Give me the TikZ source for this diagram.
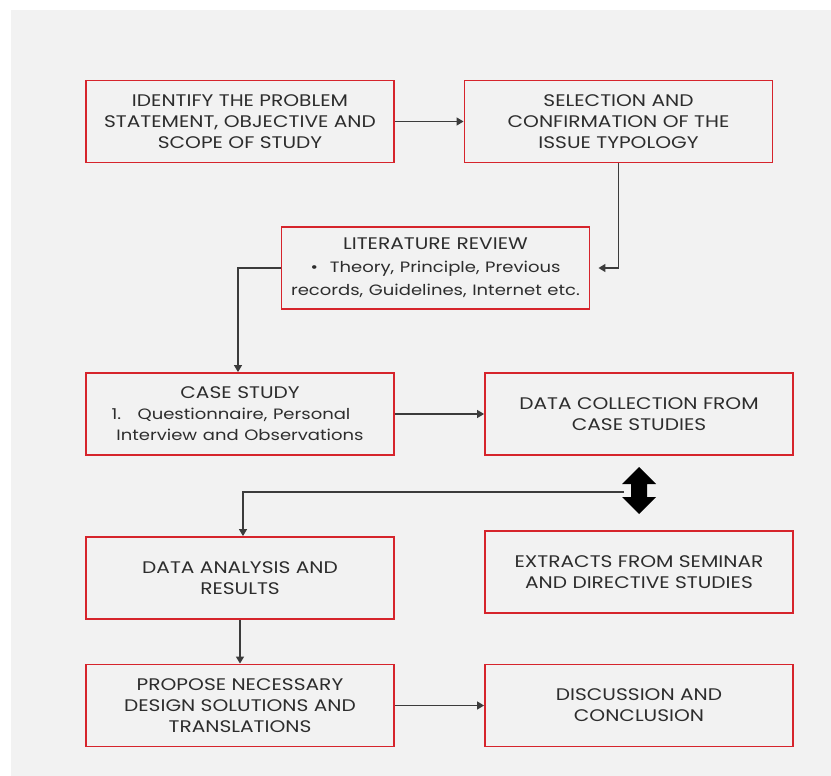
\documentclass[tikz,border=0pt]{standalone}
\usepackage{fontspec}
\setmainfont[FakeStretch=1.2]{Poppins}
\usetikzlibrary{arrows.meta}
\definecolor{boxred}{RGB}{214,36,44}
\definecolor{pagegray}{RGB}{242,242,242}
\definecolor{inkgray}{RGB}{45,45,45}
\definecolor{linegray}{RGB}{60,60,60}
% mixed-case lines are set a little narrower
\newcommand{\smalltxt}{\fontsize{15}{21}\selectfont}
\begin{document}
\begin{tikzpicture}[x=1pt,y=-1pt,
  box/.style={draw=boxred, line width=1.9pt, fill=pagegray, minimum width=308pt,
    minimum height=82pt, align=center, text=inkgray, inner sep=0pt,
    font=\fontsize{16.8}{21}\selectfont},
  conn/.style={draw=linegray, line width=1.4pt, -{Triangle[length=7pt,width=8pt]}}
]
% page and gray panel
\useasboundingbox (0,0) rectangle (831,776);
\fill[white] (0,0) rectangle (831,776);
\fill[pagegray] (11,10) rectangle (831,776);

% process boxes
\node[box] (b1) at (240,121.5) {IDENTIFY THE PROBLEM\\STATEMENT, OBJECTIVE AND\\SCOPE OF STUDY};
\node[box] (b2) at (618.5,121.5) {SELECTION AND\\CONFIRMATION OF THE\\ISSUE TYPOLOGY};
\node[box, text width=300pt] (b3) at (435.5,268) {LITERATURE REVIEW\\[2pt]
  {\smalltxt\textbullet\hspace{0.8em}Theory, Principle, Previous}\\[2pt]
  {\smalltxt records, Guidelines, Internet etc.}};
\node[box, text width=300pt] (b4) at (240,414) {CASE STUDY\\
  {\smalltxt\hspace{-1.2em}1.\hspace{1.1em}Questionnaire, Personal}\\
  {\smalltxt Interview and Observations}};
\node[box] (b5) at (639,414) {DATA COLLECTION FROM\\CASE STUDIES};
\node[box] (b6) at (240,578) {DATA ANALYSIS AND\\RESULTS};
\node[box] (b7) at (639,572) {EXTRACTS FROM SEMINAR\\AND DIRECTIVE STUDIES};
\node[box] (b8) at (240,705.5) {PROPOSE NECESSARY\\DESIGN SOLUTIONS AND\\TRANSLATIONS};
\node[box] (b9) at (639,705.5) {DISCUSSION AND\\CONCLUSION};

% two-headed block arrow between the data boxes
\fill[black] (639,467) -- (656,484) -- (647,484) -- (647,497) -- (656,497)
  -- (639,514) -- (622,497) -- (631,497) -- (631,484) -- (622,484) -- cycle;
\coordinate (dbl) at (624,492);

% connectors
\draw[conn] (b1.east) -- (b2.west);
\draw[conn, shorten >=8pt] (b2.south) |- (b3.east);
\draw[conn] (b3.west) -| ([xshift=-2pt]b4.north);
\draw[conn] (b4.east) -- (b5.west);
\draw[conn] (dbl) -| ([xshift=3pt]b6.north);
\draw[conn] (b6.south) -- (b8.north);
\draw[conn] (b8.east) -- (b9.west);
\end{tikzpicture}
\end{document}
